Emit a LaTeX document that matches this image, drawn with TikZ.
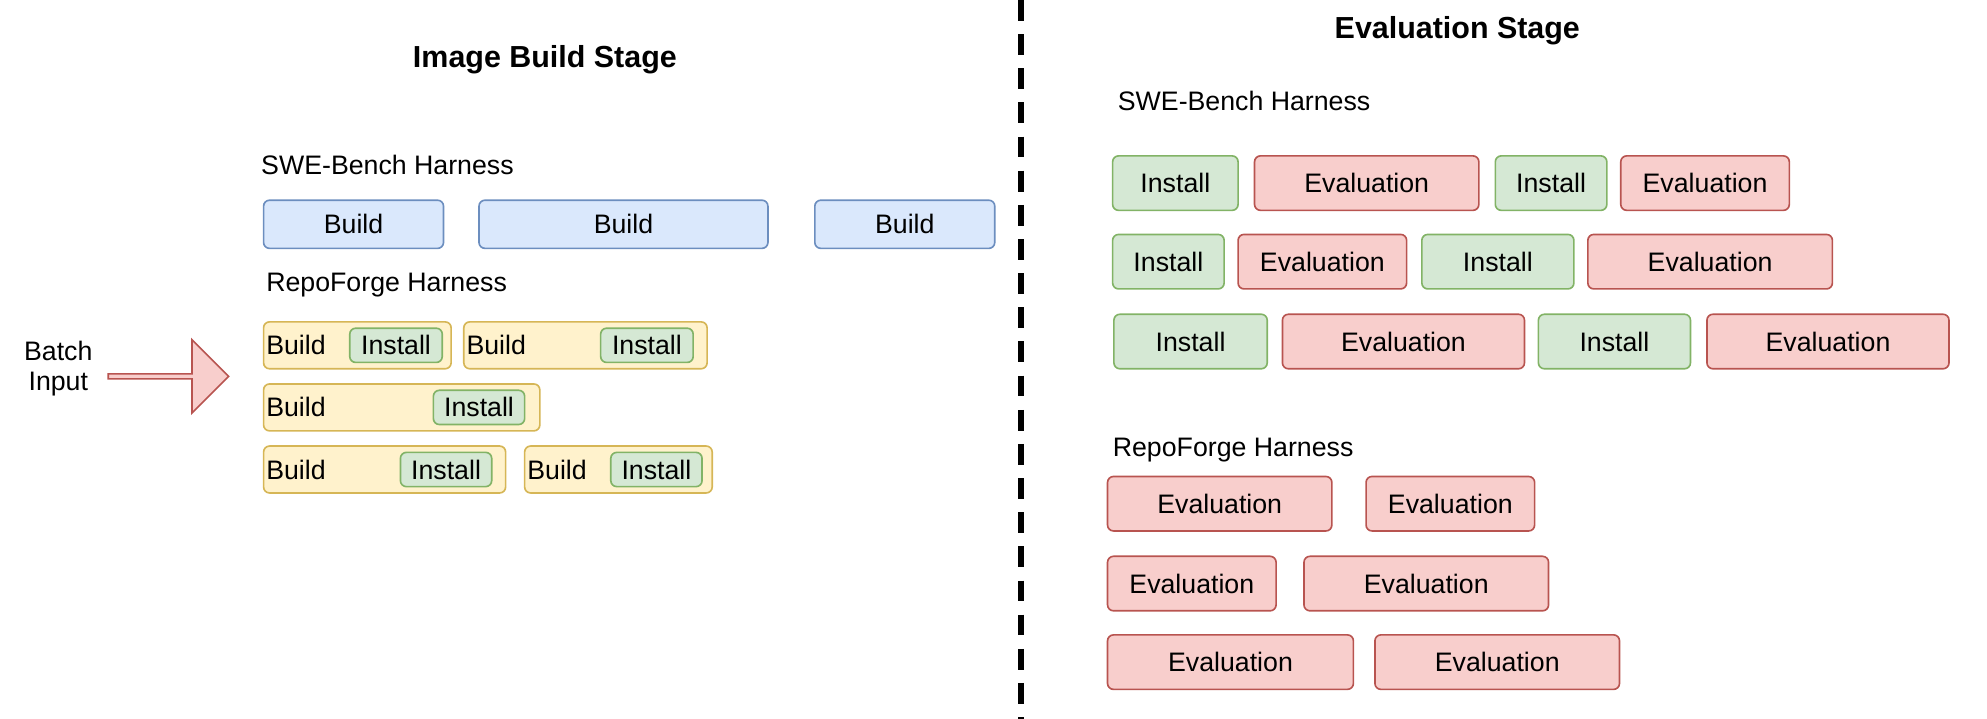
\documentclass[tikz,border=0pt]{standalone}
\usepackage{fontspec}
\setmainfont{Liberation Sans}
\usetikzlibrary{shapes.arrows}
\begin{document}
\begin{tikzpicture}[x=0.03cm,y=-0.03cm,
  txt/.style={font=\fontsize{18}{20}\selectfont},
  ttl/.style={font=\fontsize{20.5}{24}\selectfont\bfseries},
  blu/.style={draw=blue!40!gray!90,fill=blue!12,rounded corners=4pt,line width=1pt},
  bluebox/.style={draw={rgb,255:red,108;green,142;blue,191},fill={rgb,255:red,218;green,232;blue,252},rounded corners=4pt,line width=1.1pt},
  grn/.style={draw={rgb,255:red,130;green,179;blue,102},fill={rgb,255:red,213;green,232;blue,212},rounded corners=4pt,line width=1.1pt},
  redb/.style={draw={rgb,255:red,184;green,84;blue,80},fill={rgb,255:red,248;green,206;blue,204},rounded corners=4pt,line width=1.1pt},
  yel/.style={draw={rgb,255:red,214;green,182;blue,86},fill={rgb,255:red,255;green,242;blue,204},rounded corners=4pt,line width=1.1pt}]
\useasboundingbox (0,0) rectangle (1568,567);
\newcommand{\bx}[7]{\draw[#6] (#2,#3) rectangle (#4,#5) node[midway,txt] (#1) {#7};}
\newcommand{\yb}[6]{\draw[yel] (#2,#3) rectangle (#4,#5); \node[txt,anchor=west] (#1) at (#6,{(#3+#5)/2}) {Build};}
% titles and divider
\node[ttl] (t1) at (430,47) {Image Build Stage};
\node[ttl] (t2) at (1150,24) {Evaluation Stage};
\coordinate (d1) at (806,0); \coordinate (d2) at (806,567);
\draw[line width=4pt,dash pattern=on 14pt off 9pt] (d1) -- (d2);
% left
\node[txt,anchor=west] (h1) at (202,130) {SWE-Bench Harness};
\bx{b1}{208}{158}{350}{196}{bluebox}{Build}
\bx{b2}{378}{158}{606}{196}{bluebox}{Build}
\bx{b3}{643}{158}{785}{196}{bluebox}{Build}
\node[txt,anchor=west] (h2) at (206,225) {RepoForge Harness};
\yb{y1}{208}{254}{356}{291}{206}
\bx{i1}{276}{259}{349}{286}{grn}{Install}
\yb{y2}{366}{254}{558}{291}{364}
\bx{i2}{474}{259}{547}{286}{grn}{Install}
\yb{y3}{208}{303}{426}{340}{206}
\bx{i3}{342}{308}{414}{335}{grn}{Install}
\yb{y4}{208}{352}{399}{389}{206}
\bx{i4}{316}{357}{388}{384}{grn}{Install}
\yb{y5}{414}{352}{562}{389}{412}
\bx{i5}{482}{357}{554}{384}{grn}{Install}
\node[txt,align=center] (bi) at (46,291) {Batch\\Input};
\node[single arrow,draw={rgb,255:red,184;green,84;blue,80},fill={rgb,255:red,248;green,206;blue,204},line width=1.1pt,minimum width=1.74cm,minimum height=2.85cm,single arrow head extend=0.27cm,single arrow tip angle=90,inner sep=0pt] (arr) at (132,297) {};
% right
\node[txt,anchor=west] (h3) at (878,80) {SWE-Bench Harness};
\bx{a1}{878}{123}{977}{166}{grn}{Install}
\bx{a2}{990}{123}{1167}{166}{redb}{Evaluation}
\bx{a3}{1180}{123}{1268}{166}{grn}{Install}
\bx{a4}{1279}{123}{1412}{166}{redb}{Evaluation}
\bx{a5}{878}{185}{966}{228}{grn}{Install}
\bx{a6}{977}{185}{1110}{228}{redb}{Evaluation}
\bx{a7}{1122}{185}{1242}{228}{grn}{Install}
\bx{a8}{1253}{185}{1446}{228}{redb}{Evaluation}
\bx{a9}{879}{248}{1000}{291}{grn}{Install}
\bx{a10}{1012}{248}{1203}{291}{redb}{Evaluation}
\bx{a11}{1214}{248}{1334}{291}{grn}{Install}
\bx{a12}{1347}{248}{1538}{291}{redb}{Evaluation}
\node[txt,anchor=west] (h4) at (874,355) {RepoForge Harness};
\bx{e1}{874}{376}{1051}{419}{redb}{Evaluation}
\bx{e2}{1078}{376}{1211}{419}{redb}{Evaluation}
\bx{e3}{874}{439}{1007}{482}{redb}{Evaluation}
\bx{e4}{1029}{439}{1222}{482}{redb}{Evaluation}
\bx{e5}{874}{501}{1068}{544}{redb}{Evaluation}
\bx{e6}{1085}{501}{1278}{544}{redb}{Evaluation}
\end{tikzpicture}
\end{document}
